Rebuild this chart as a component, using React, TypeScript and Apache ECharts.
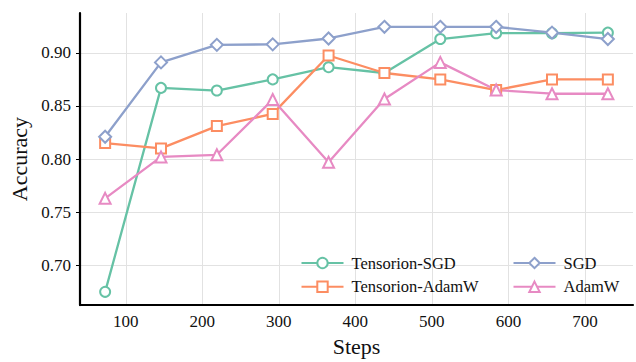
import React, { useEffect, useRef } from "react";
import * as echarts from "echarts";

// Training steps (x) and accuracy curves for each optimizer
const steps = [73, 146, 219, 292, 365, 438, 511, 584, 657, 730];
const tensorionSgd = [0.675, 0.867, 0.8645, 0.875, 0.8865, 0.881, 0.913, 0.9185, 0.9185, 0.919];
const tensorionAdamW = [0.815, 0.81, 0.831, 0.8425, 0.8975, 0.881, 0.875, 0.865, 0.875, 0.875];
const sgd = [0.821, 0.891, 0.9075, 0.908, 0.9135, 0.9245, 0.9245, 0.9245, 0.919, 0.913];
const adamW = [0.763, 0.802, 0.804, 0.856, 0.797, 0.8565, 0.891, 0.865, 0.8615, 0.8615];

const xTicks = [100, 200, 300, 400, 500, 600, 700];
const yTicks = [0.7, 0.75, 0.8, 0.85, 0.9];

const FONT = "'Liberation Serif', 'Times New Roman', serif";

const seriesDefs = [
  { name: "Tensorion-SGD", data: tensorionSgd, color: "#66c2a5", symbol: "emptyCircle", size: 10 },
  { name: "Tensorion-AdamW", data: tensorionAdamW, color: "#fc8d62", symbol: "emptyRect", size: 10 },
  { name: "SGD", data: sgd, color: "#8da0cb", symbol: "emptyDiamond", size: 12 },
  { name: "AdamW", data: adamW, color: "#e78ac3", symbol: "emptyTriangle", size: 11 },
];

export default function App() {
  const ref = useRef<HTMLDivElement>(null);

  useEffect(() => {
    document.body.style.margin = "0";
    if (!ref.current) return;
    const chart = echarts.init(ref.current, null, { renderer: "svg" });

    const legendBase = {
      orient: "vertical" as const,
      top: 254.5,
      padding: 0,
      itemWidth: 42,
      itemHeight: 13,
      itemGap: 6.8,
      textStyle: {
        fontFamily: FONT,
        fontSize: 16.5,
        color: "#111",
        padding: [0, 0, 0, 3],
      },
    };

    chart.setOption({
      animation: false,
      backgroundColor: "#fff",
      grid: { left: 80, right: 3, top: 13, bottom: 55, containLabel: false },
      legend: [
        { ...legendBase, left: 300.5, data: ["Tensorion-SGD", "Tensorion-AdamW"] },
        { ...legendBase, left: 512.5, data: ["SGD", "AdamW"] },
      ],
      xAxis: {
        type: "value",
        min: 40.15,
        max: 762.85,
        name: "Steps",
        nameLocation: "middle",
        nameGap: 29,
        nameTextStyle: { fontFamily: FONT, fontSize: 22, color: "#111" },
        axisLine: { show: true, lineStyle: { color: "#000", width: 2.2 } },
        axisTick: { show: false, customValues: xTicks },
        axisLabel: {
          customValues: xTicks,
          fontFamily: FONT,
          fontSize: 17,
          color: "#111",
          margin: 8,
        },
        splitLine: { show: true, lineStyle: { color: "#e2e2e2", width: 1 } },
      },
      yAxis: {
        type: "value",
        min: 0.6625,
        max: 0.9375,
        name: "Accuracy",
        nameLocation: "middle",
        nameGap: 45,
        nameTextStyle: { fontFamily: FONT, fontSize: 22, color: "#111" },
        axisLine: { show: true, lineStyle: { color: "#000", width: 2.2 } },
        axisTick: {
          show: true,
          customValues: yTicks,
          length: 4,
          lineStyle: { color: "#000", width: 1 },
        },
        axisLabel: {
          customValues: yTicks,
          fontFamily: FONT,
          fontSize: 17,
          color: "#111",
          margin: 9,
          formatter: (v: number) => v.toFixed(2),
        },
        splitLine: { show: true, lineStyle: { color: "#e2e2e2", width: 1 } },
      },
      series: seriesDefs.map((s) => ({
        name: s.name,
        type: "line",
        data: steps.map((x, i) => [x, s.data[i]]),
        symbol: s.symbol,
        symbolSize: s.size,
        showAllSymbol: true,
        color: s.color,
        lineStyle: { color: s.color, width: 2.3 },
        itemStyle: { color: s.color, borderColor: s.color, borderWidth: 1.4 },
        emphasis: { disabled: true },
      })),
    });

    return () => chart.dispose();
  }, []);

  return <div ref={ref} style={{ width: 636, height: 362 }} />;
}
